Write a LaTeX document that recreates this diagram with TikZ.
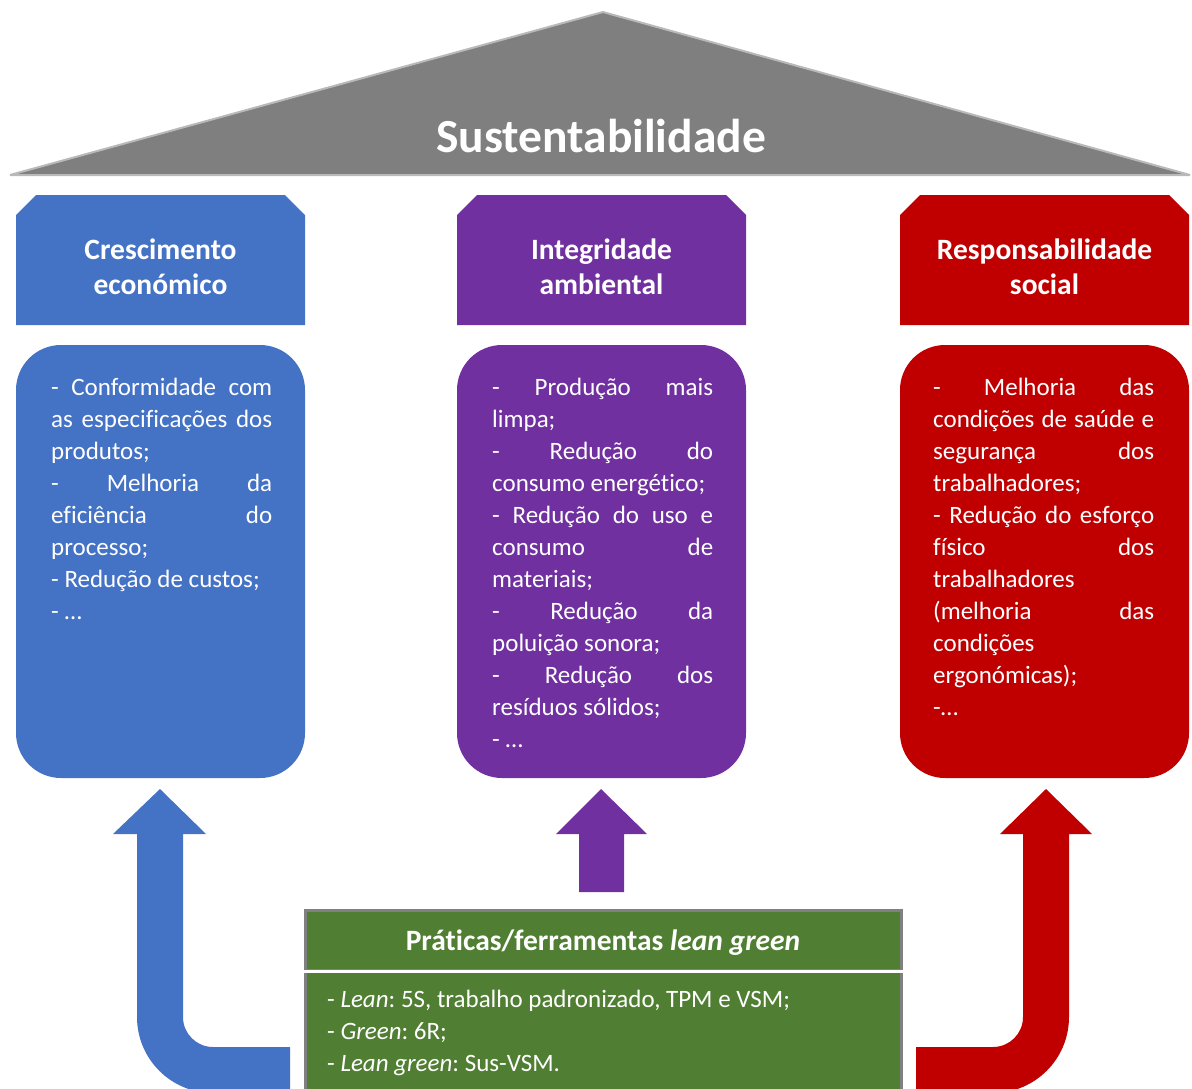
\documentclass[tikz,border=0pt]{standalone}
\usepackage{fontspec}
\setmainfont{Carlito}[Ligatures=CommonOff]
\frenchspacing

\definecolor{roofgray}{HTML}{7F7F7F}
\definecolor{ecoblue}{HTML}{4472C4}
\definecolor{envpurple}{HTML}{7030A0}
\definecolor{socred}{HTML}{C00000}
\definecolor{leangreen}{HTML}{507E32}

% settings for the justified pillar texts
\newcommand{\pillarsetup}{\parindent=0pt \tolerance=10000 \hyphenpenalty=10000 }

\begin{document}
\begin{tikzpicture}[x=1pt, y=-1pt,
    pillar/.style={rounded corners=45pt, minimum width=289pt, minimum height=433pt, inner sep=0pt},
    pillartext/.style={anchor=north west, inner sep=0pt, text width=221pt, align=justify, text=white,
      font=\fontsize{25}{32}\selectfont},
    headtext/.style={text=white, align=center, font=\bfseries\fontsize{29.5}{35}\selectfont},
    greenband/.style={fill=leangreen, draw=gray, line width=3pt, minimum width=596pt, inner sep=0pt}]
  \useasboundingbox (0,0) rectangle (1192,1088);
  % Roof
  \fill[roofgray, draw=gray!55, line width=2pt, line join=bevel] (10,175) -- (603,12) -- (1190,175) -- cycle;
  \node[text=white, font=\bfseries\fontsize{47.5}{56}\selectfont] (roof) at (601,136) {Sustentabilidade};
  % Three pillars: chamfered header and rounded body
  \foreach \hx/\hcol/\hname/\htext in {16/ecoblue/eco/{Crescimento\\económico},
      457/envpurple/env/{Integridade\\ambiental}, 900/socred/soc/{Responsabilidade\\social}} {
    \fill[\hcol] (\hx,325) -- (\hx,215) -- (\hx+20,195) -- (\hx+269,195) -- (\hx+289,215) -- (\hx+289,325) -- cycle;
    \node[headtext] (head\hname) at (\hx+144.5,267) {\htext};
    \node[pillar, fill=\hcol] (pillar\hname) at (\hx+144.5,561.5) {};
  }
  \node[pillartext] (txteco) at (51,372.6) {\pillarsetup\strut- Conformidade com\linebreak as especificações dos\linebreak produtos;\par
    - Melhoria da\linebreak eficiência do\linebreak processo;\par - Redução de custos;\par - …};
  \node[pillartext] (txtenv) at (492,372.6) {\pillarsetup\strut- Produção mais\linebreak limpa;\par
    - Redução do\linebreak consumo energético;\par - Redução do uso e\linebreak consumo de\linebreak materiais;\par
    - Redução da\linebreak poluição sonora;\par - Redução dos\linebreak resíduos sólidos;\par - …};
  \node[pillartext] (txtsoc) at (933,372.6) {\pillarsetup\strut- Melhoria das\linebreak condições de saúde e\linebreak segurança dos\linebreak trabalhadores;\par
    - Redução do esforço\linebreak físico dos\linebreak trabalhadores\linebreak (melhoria das\linebreak condições\linebreak ergonómicas);\par -…};
  % Lean green practices
  \node[greenband, minimum height=60pt] (leantitle) at (603,940) {};
  \node[greenband, minimum height=130pt] (leanbody) at (603,1035) {};
  \draw[white, line width=3pt] (leantitle.south west) -- (leantitle.south east);
  \node[text=white, font=\bfseries\fontsize{29.5}{34}\selectfont] (leanhead) at (603,943) {Práticas/ferramentas \textit{lean green}};
  \node[anchor=north west, inner sep=0pt, text=white, align=left, font=\fontsize{25}{32}\selectfont] (leanlist) at (327,984.6)
    {\strut- \textit{Lean}: 5S, trabalho padronizado, TPM e VSM;\\ - \textit{Green}: 6R;\\ - \textit{Lean green}: Sus-VSM.};
  % Block arrows
  \fill[ecoblue] (160,789) -- (206,834) -- (183,834) -- (183,1017) .. controls (183,1033.6) and (196.4,1047) .. (213,1047)
    -- (290,1047) -- (290,1093) -- (213,1093) .. controls (171,1093) and (137,1059) .. (137,1017) -- (137,834) -- (113,834) -- cycle;
  \fill[envpurple] (601,789) -- (647,834) -- (624,834) -- (624,892) -- (579,892) -- (579,834) -- (556,834) -- cycle;
  \fill[socred] (1046,789) -- (1092,834) -- (1069,834) -- (1069,1017) .. controls (1069,1059) and (1035,1093) .. (993,1093)
    -- (916,1093) -- (916,1047) -- (993,1047) .. controls (1009.6,1047) and (1023,1033.6) .. (1023,1017) -- (1023,834) -- (1000,834) -- cycle;
\end{tikzpicture}
\end{document}
